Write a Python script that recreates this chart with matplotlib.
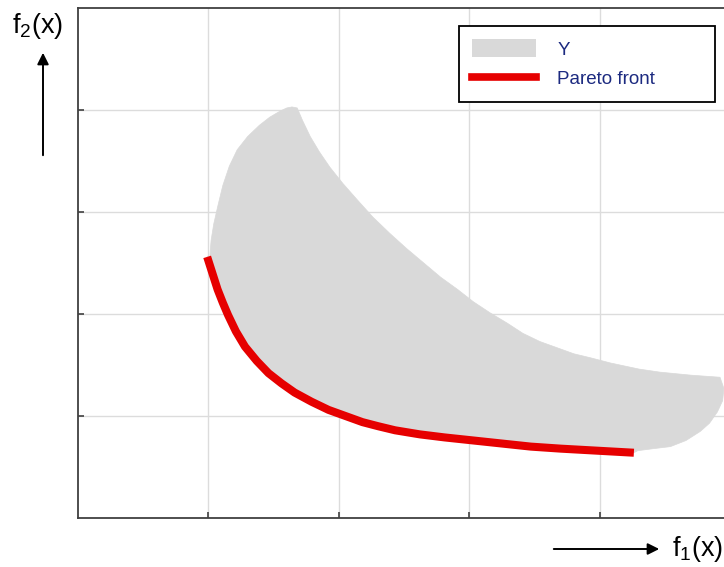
import matplotlib
matplotlib.use('Agg')
import matplotlib.pyplot as plt
from matplotlib.patches import Polygon, Patch
from matplotlib.lines import Line2D

plt.rcParams['font.family'] = ['Liberation Sans', 'DejaVu Sans']
plt.rcParams['mathtext.fontset'] = 'custom'
plt.rcParams['mathtext.rm'] = 'Liberation Sans'
plt.rcParams['mathtext.default'] = 'regular'

# pareto front
front_x = [0.99, 1.03, 1.07, 1.11, 1.15, 1.21, 1.28, 1.37, 1.46, 1.56, 1.66, 1.79, 1.92,
           2.05, 2.18, 2.30, 2.43, 2.62, 2.81, 3.03, 3.25, 3.47, 3.70, 3.98, 4.26]
front_y = [2.56, 2.40, 2.24, 2.11, 1.99, 1.83, 1.68, 1.54, 1.42, 1.32, 1.23, 1.14, 1.06,
           1.00, 0.94, 0.90, 0.86, 0.82, 0.79, 0.76, 0.73, 0.70, 0.68, 0.66, 0.64]

# outline of the feasible set Y: left edge up to the peak, then the upper/right edge
upper_x = [1.01, 1.02, 1.04, 1.07, 1.11, 1.16, 1.22, 1.30, 1.39, 1.47, 1.55, 1.60, 1.64, 1.68,
           1.72, 1.78, 1.85, 1.93, 2.03, 2.14, 2.26, 2.39, 2.52, 2.65, 2.78, 2.91, 3.03,
           3.16, 3.29, 3.41, 3.54, 3.67, 3.80, 3.93, 4.08, 4.30, 4.46, 4.70, 4.92, 4.95,
           4.94, 4.90, 4.84, 4.77, 4.66, 4.54, 4.41, 4.29]
upper_y = [2.56, 2.72, 2.88, 3.05, 3.26, 3.45, 3.61, 3.74, 3.85, 3.93, 3.99, 4.02, 4.03, 4.02,
           3.90, 3.74, 3.59, 3.44, 3.28, 3.12, 2.95, 2.79, 2.64, 2.50, 2.36, 2.24, 2.12,
           2.01, 1.91, 1.81, 1.73, 1.67, 1.61, 1.57, 1.52, 1.46, 1.43, 1.40, 1.38, 1.27,
           1.15, 1.04, 0.93, 0.85, 0.76, 0.70, 0.68, 0.66]

grid_pos = [1, 2, 3, 4]

fig = plt.figure(figsize=(7.24, 5.67), dpi=100)
ax = fig.add_axes([0.1077, 0.0864, 0.9012, 0.8995])
ax.set_xlim(0, 5)
ax.set_ylim(0, 5)

# region Y: upper outline + front going back
poly_x = upper_x + front_x[::-1]
poly_y = upper_y + front_y[::-1]
ax.add_patch(Polygon(list(zip(poly_x, poly_y)), closed=True, facecolor='#d9d9d9',
                     edgecolor='#d9d9d9', lw=0.5, joinstyle='round', zorder=2))
ax.plot(front_x, front_y, color='#e60000', lw=5.8, solid_capstyle='butt',
        solid_joinstyle='round', zorder=3)

ax.set_xticks(grid_pos)
ax.set_yticks(grid_pos)
ax.set_xticklabels([])
ax.set_yticklabels([])
ax.tick_params(direction='in', length=4, width=1.2, color='#404040')
ax.grid(True, color='#dcdcdc', lw=1.0, zorder=0)
ax.set_axisbelow(True)
for s in ax.spines.values():
    s.set_color('#404040')
    s.set_linewidth(1.3)

handles = [Patch(facecolor='#d9d9d9', edgecolor='none'),
           Line2D([], [], color='#e60000', lw=5.5)]
leg = ax.legend(handles, ['Y', 'Pareto front'], loc='upper left', mode='expand',
                bbox_to_anchor=(459 / 724, 1 - 104 / 567, 256 / 724, 78 / 567),
                bbox_transform=fig.transFigure,
                fancybox=False, framealpha=1, edgecolor='black', fontsize=13.5,
                handlelength=3.4, handleheight=1.12, handletextpad=1.15,
                borderpad=0.7, labelspacing=0.55, borderaxespad=0)
leg.get_frame().set_linewidth(1.3)
for t in leg.get_texts():
    t.set_color('#1c2a80')

# axis labels with arrows
fig.text(12 / 724, 1 - 26 / 567, r'f$_{2}$(x)', fontsize=19.5, va='center', ha='left')
fig.text(672 / 724, 1 - 549 / 567, r'f$_{1}$(x)', fontsize=19.5, va='center', ha='left')
arrow = dict(arrowstyle='-|>', color='black', lw=1.4, mutation_scale=17)
ax.annotate('', xy=(43 / 724, 1 - 50 / 567), xytext=(43 / 724, 1 - 158 / 567),
            xycoords='figure fraction', textcoords='figure fraction', arrowprops=arrow)
ax.annotate('', xy=(662 / 724, 1 - 549 / 567), xytext=(551 / 724, 1 - 549 / 567),
            xycoords='figure fraction', textcoords='figure fraction', arrowprops=arrow)

fig.savefig('out.png', dpi=100)
